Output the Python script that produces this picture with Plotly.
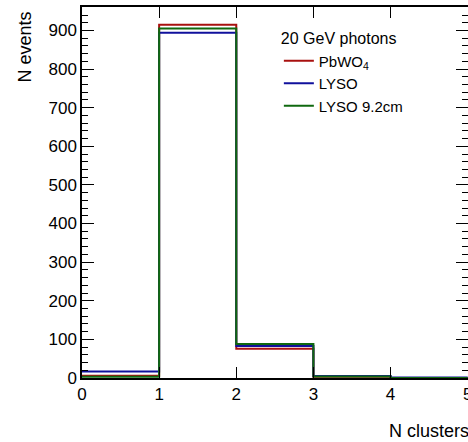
import plotly.graph_objects as go

# Cluster multiplicity for 20 GeV photons, three crystal configurations
bin_edges = [0, 1, 2, 3, 4, 5]
pbwo4_counts = [6, 915, 76, 3, 0]
lyso_counts = [17, 894, 83, 5, 1]
lyso92_counts = [3, 905, 88, 4, 0]

series_names = ["PbWO<sub>4</sub>", "LYSO", "LYSO 9.2cm"]
series_counts = [pbwo4_counts, lyso_counts, lyso92_counts]
series_colors = ["#a8100f", "#10109c", "#0f680f"]

y_max = 1.05 * max(max(c) for c in series_counts)

fig = go.Figure()
for name, counts, color in zip(series_names, series_counts, series_colors):
    fig.add_trace(go.Scatter(
        x=bin_edges,
        y=counts + [counts[-1]],
        mode="lines",
        line=dict(shape="hv", color=color, width=2),
        name=name,
    ))

font_family = "Liberation Sans, Arial, Helvetica, sans-serif"

fig.update_layout(
    width=468, height=442,
    margin=dict(l=82, r=0, t=7, b=64, autoexpand=False),
    paper_bgcolor="white", plot_bgcolor="white",
    font=dict(family=font_family, color="black", size=16),
    showlegend=True,
    legend=dict(
        title=dict(text="20 GeV photons", font=dict(size=16)),
        font=dict(size=15),
        x=0.51, y=0.955, xanchor="left", yanchor="top",
        bgcolor="rgba(0,0,0,0)",
        tracegroupgap=0,
    ),
    xaxis=dict(
        range=[0, 5.004], tickvals=bin_edges, automargin=False,
        ticks="inside", ticklen=11, tickwidth=1, tickcolor="black",
        showline=True, linecolor="black", linewidth=1.5, mirror="ticks",
        showgrid=False, zeroline=False,
        tickfont=dict(size=17), ticklabeloverflow="allow",
    ),
    yaxis=dict(
        range=[0, y_max], dtick=100, tick0=0, automargin=False,
        ticks="inside", ticklen=12, tickwidth=1, tickcolor="black",
        showline=True, linecolor="black", linewidth=1.5, mirror="ticks",
        showgrid=False, zeroline=False,
        tickfont=dict(size=17),
        minor=dict(dtick=20, ticks="inside", ticklen=6, tickcolor="black", tickwidth=1),
    ),
    annotations=[
        dict(text="N clusters", xref="paper", yref="paper", x=1, y=-0.143,
             xanchor="right", yanchor="middle", xshift=3, showarrow=False,
             font=dict(size=18)),
        dict(text="N events", xref="paper", yref="paper", x=-0.15, y=1,
             xanchor="center", yanchor="top", yshift=-3, textangle=-90,
             showarrow=False, font=dict(size=18)),
    ],
)

fig.write_html("out.html")
